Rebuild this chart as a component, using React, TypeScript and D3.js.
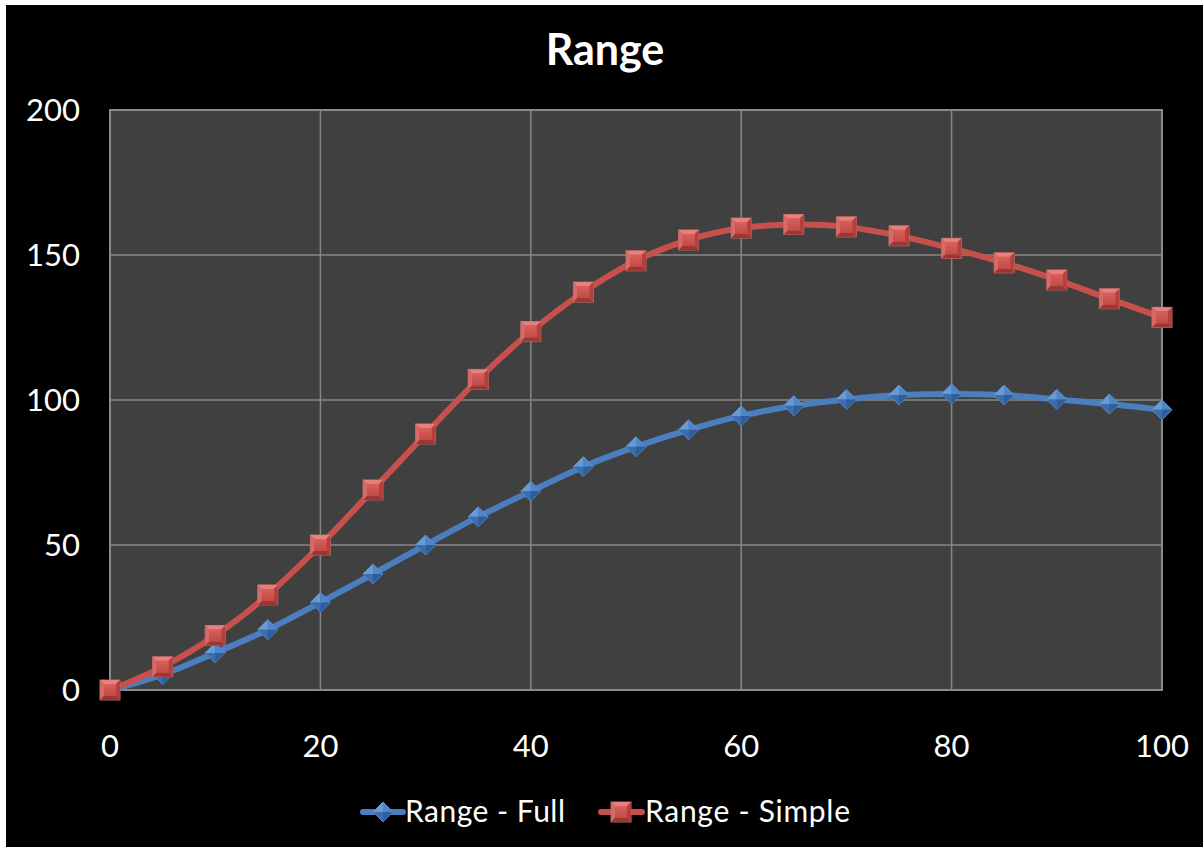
import React from "react";
import * as d3 from "d3";

// Launch angle / setting on the x axis, range values for both models
const xValues = [0, 5, 10, 15, 20, 25, 30, 35, 40, 45, 50, 55, 60, 65, 70, 75, 80, 85, 90, 95, 100];
const rangeFull = [0, 5.3, 12.8, 20.8, 30.2, 40, 50, 59.7, 68.5, 77, 83.9, 89.7, 94.5, 98, 100.2, 101.7, 102.1, 101.7, 100.2, 98.6, 96.6];
const rangeSimple = [0, 8, 18.8, 32.8, 50, 69, 88.3, 107.1, 123.6, 137.2, 148, 155.2, 159.3, 160.5, 159.7, 156.6, 152.3, 147.3, 141.4, 134.9, 128.5];
const xTicks = [0, 20, 40, 60, 80, 100];
const yTicks = [0, 50, 100, 150, 200];
const seriesNames = ["Range - Full", "Range - Simple"];

const W = 1203;
const H = 847;
const plot = { left: 110, top: 110, right: 1162, bottom: 690 };
const FONT = "Lato, 'Open Sans', sans-serif";

const BLUE = "#4a7ebf";
const RED = "#c8504c";

function Square({ x, y, s = 20 }: { x: number; y: number; s?: number }) {
  const h = s / 2;
  const b = 4;
  return (
    <g transform={`translate(${x},${y})`}>
      <rect x={-h} y={-h} width={s} height={s} fill="#c0504d" stroke="#b86a68" strokeWidth={1} />
      <polygon points={`${-h},${-h} ${h},${-h} ${h - b},${-h + b} ${-h + b},${-h + b}`} fill="#e8807c" />
      <polygon points={`${-h},${-h} ${-h + b},${-h + b} ${-h + b},${h - b} ${-h},${h}`} fill="#d66a66" />
      <polygon points={`${h},${-h} ${h},${h} ${h - b},${h - b} ${h - b},${-h + b}`} fill="#b4403d" />
      <polygon points={`${-h},${h} ${h},${h} ${h - b},${h - b} ${-h + b},${h - b}`} fill="#9c3634" />
      <rect x={-h + b} y={-h + b} width={s - 2 * b} height={s - 2 * b} fill="url(#sqFace)" />
    </g>
  );
}

function Diamond({ x, y, r = 10 }: { x: number; y: number; r?: number }) {
  return (
    <g transform={`translate(${x},${y})`}>
      <polygon points={`0,${-r} ${r},0 0,${r} ${-r},0`} fill="#3f76b8" stroke="#6d95c6" strokeWidth={1} />
      <polygon points={`0,${-r} 0,0 ${-r},0`} fill="#6a9ad6" />
      <polygon points={`0,${-r} ${r},0 0,0`} fill="#4f86c8" />
      <polygon points={`${-r},0 0,0 0,${r}`} fill="#3a6ead" />
      <polygon points={`0,0 ${r},0 0,${r}`} fill="#2f5f9a" />
    </g>
  );
}

export default function App() {
  const x = d3.scaleLinear().domain([0, 100]).range([plot.left, plot.right]);
  const y = d3.scaleLinear().domain([0, 200]).range([plot.bottom, plot.top]);

  const line = d3
    .line<number>()
    .x((_, i) => x(xValues[i]))
    .y((d) => y(d))
    .curve(d3.curveCatmullRom.alpha(0.5));

  return (
    <div style={{ position: "absolute", left: 0, top: 0, width: W, height: H }}>
      <svg width={W} height={H} style={{ display: "block" }}>
        <defs>
          <linearGradient id="sqFace" x1="0" y1="0" x2="0" y2="1">
            <stop offset="0" stopColor="#d9605c" />
            <stop offset="1" stopColor="#c24a47" />
          </linearGradient>
        </defs>
        <rect x={0} y={0} width={W} height={H} fill="#ffffff" />
        <rect x={6} y={5} width={W - 6} height={H - 5} fill="#000000" />

        {/* plot area */}
        <rect
          x={plot.left}
          y={plot.top}
          width={plot.right - plot.left}
          height={plot.bottom - plot.top}
          fill="#404040"
        />
        {yTicks.map((t) => (
          <line key={`gy${t}`} x1={plot.left} x2={plot.right} y1={y(t)} y2={y(t)} stroke="#878787" strokeWidth={1.5} />
        ))}
        {xTicks.map((t) => (
          <line key={`gx${t}`} x1={x(t)} x2={x(t)} y1={plot.top} y2={plot.bottom} stroke="#878787" strokeWidth={1.5} />
        ))}
        <rect
          x={plot.left}
          y={plot.top}
          width={plot.right - plot.left}
          height={plot.bottom - plot.top}
          fill="none"
          stroke="#8a8a8a"
          strokeWidth={2}
        />

        {/* title */}
        <text x={605} y={65} textAnchor="middle" fill="#ffffff" fontFamily={FONT} fontWeight="bold" fontSize={43}>
          Range
        </text>

        {/* axis labels */}
        {yTicks.map((t) => (
          <text key={`ly${t}`} x={80} y={y(t) + 11} textAnchor="end" fill="#ffffff" fontFamily={FONT} fontSize={31}>
            {t}
          </text>
        ))}
        {xTicks.map((t) => (
          <text key={`lx${t}`} x={x(t)} y={757} textAnchor="middle" fill="#ffffff" fontFamily={FONT} fontSize={31}>
            {t}
          </text>
        ))}

        {/* series lines */}
        <path d={line(rangeFull) || ""} fill="none" stroke={BLUE} strokeWidth={6} strokeLinejoin="round" />
        <path d={line(rangeSimple) || ""} fill="none" stroke={RED} strokeWidth={6} strokeLinejoin="round" />

        {rangeFull.map((v, i) => (
          <Diamond key={`d${i}`} x={x(xValues[i])} y={y(v)} />
        ))}
        {rangeSimple.map((v, i) => (
          <Square key={`s${i}`} x={x(xValues[i])} y={y(v)} />
        ))}

        {/* legend */}
        <line x1={363} x2={403} y1={812} y2={812} stroke={BLUE} strokeWidth={6} strokeLinecap="round" />
        <Diamond x={383} y={812} />
        <text x={405} y={822} fill="#ffffff" fontFamily={FONT} fontSize={30} textLength={160} lengthAdjust="spacing">
          {seriesNames[0]}
        </text>
        <line x1={601} x2={642} y1={812} y2={812} stroke={RED} strokeWidth={6} strokeLinecap="round" />
        <Square x={621} y={812} />
        <text x={645} y={822} fill="#ffffff" fontFamily={FONT} fontSize={30} textLength={205} lengthAdjust="spacing">
          {seriesNames[1]}
        </text>
      </svg>
    </div>
  );
}
